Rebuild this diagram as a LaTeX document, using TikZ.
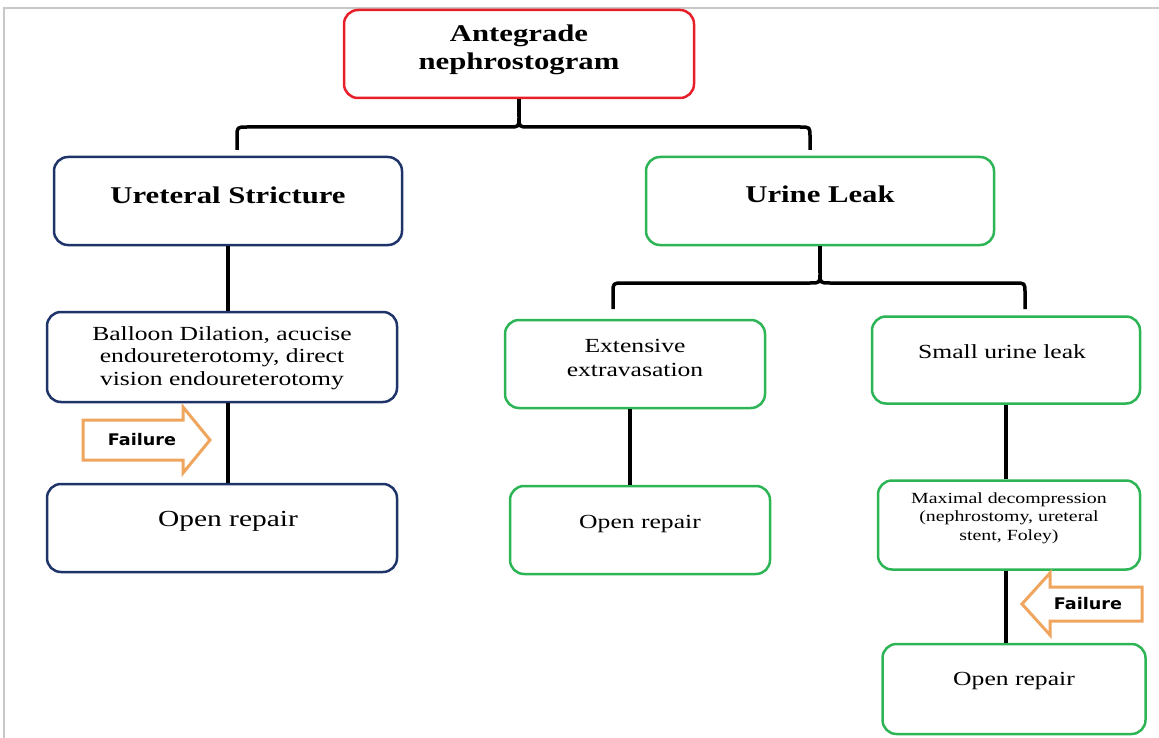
\documentclass[tikz,border=0pt]{standalone}
\usepackage{fontspec}
\setmainfont{Liberation Serif}[FakeStretch=1.28]
\newfontfamily\failfont{DejaVu Sans}[FakeStretch=1.1]
\definecolor{navy}{RGB}{30,52,105}
\definecolor{boxgreen}{RGB}{45,180,85}
\definecolor{boxred}{RGB}{232,30,40}
\definecolor{failorange}{RGB}{240,165,95}
\definecolor{framegray}{RGB}{200,200,200}
\tikzset{
  box/.style={draw, rounded corners=14pt, line width=2.5pt, fill=white, inner sep=0pt},
  navybox/.style={box, draw=navy},
  greenbox/.style={box, draw=boxgreen},
  redbox/.style={box, draw=boxred},
  head/.style={align=center, font=\fontsize{24}{28}\selectfont\bfseries, inner sep=0pt},
  body/.style={align=center, font=\fontsize{20}{23.5}\selectfont, inner sep=0pt},
  small/.style={align=center, font=\fontsize{15.5}{18.5}\selectfont, inner sep=0pt},
  conn/.style={line width=3.5pt, black, line join=round},
  farrow/.style={draw=failorange, line width=3pt, fill=white, line join=miter},
  failtext/.style={font=\failfont\fontsize{16}{19}\selectfont\bfseries, inner sep=0pt}
}
\begin{document}
\begin{tikzpicture}[x=1pt,y=-1pt]
\useasboundingbox (0,0) rectangle (1159,738);
% light frame
\draw[framegray, line width=1.5pt] (4,738) -- (4,8) -- (1159,8);

% boxes
\node[redbox, minimum width=350pt, minimum height=88pt] (top) at (519,54) {};
\node[head] (topt) at (519,50) {Antegrade\\nephrostogram};

\node[navybox, minimum width=348pt, minimum height=88pt] (us) at (228,201) {};
\node[head] (ust) at (228,195) {Ureteral Stricture};

\node[greenbox, minimum width=348pt, minimum height=88pt] (ul) at (820,201) {};
\node[head] (ult) at (820,194) {Urine Leak};

\node[navybox, minimum width=350pt, minimum height=90pt] (bal) at (222,357) {};
\node[body, font=\fontsize{20}{22.5}\selectfont] (balt) at (222,358) {Balloon Dilation, acucise\\endoureterotomy, direct\\vision endoureterotomy};

\node[navybox, minimum width=350pt, minimum height=88pt] (orL) at (222,528) {};
\node[body, font=\fontsize{23}{26}\selectfont] (orLt) at (228,521) {Open repair};

\node[greenbox, minimum width=260pt, minimum height=88pt] (ext) at (635,364) {};
\node[body] (extt) at (635,358) {Extensive\\extravasation};

\node[greenbox, minimum width=268pt, minimum height=87pt] (sml) at (1006,360) {};
\node[body] (smlt) at (1002,352) {Small urine leak};

\node[greenbox, minimum width=260pt, minimum height=88pt] (orM) at (640,530) {};
\node[body] (orMt) at (640,524) {Open repair};

\node[greenbox, minimum width=262pt, minimum height=89pt] (max) at (1009,525) {};
\node[small] (maxt) at (1009,518) {Maximal decompression\\(nephrostomy, ureteral\\stent, Foley)};

\node[greenbox, minimum width=263pt, minimum height=90pt] (orR) at (1014,689) {};
\node[body] (orRt) at (1014,681) {Open repair};

% top brace
\coordinate (b1l) at (237,150);
\coordinate (b1r) at (810,150);
\coordinate (b1c) at (519,117);
\draw[conn] (b1c) -- (top.south);
\draw[conn] (b1l) -- (237,137) .. controls (237,127) .. (247,127) -- (509,127)
  .. controls (519,127) .. (b1c) .. controls (519,127) .. (529,127) -- (800,127)
  .. controls (810,127) .. (810,137) -- (b1r);

% second brace
\coordinate (b2l) at (613,309);
\coordinate (b2r) at (1025,309);
\coordinate (b2c) at (820,273);
\draw[conn] (b2c) -- (ul.south);
\draw[conn] (b2l) -- (613,293) .. controls (613,283) .. (623,283) -- (810,283)
  .. controls (820,283) .. (b2c) .. controls (820,283) .. (830,283) -- (1015,283)
  .. controls (1025,283) .. (1025,293) -- (b2r);

% vertical connectors
\draw[conn] (us.south) -- (us.south |- bal.north);
\draw[conn] (bal.south -| us.south) -- (us.south |- orL.north);
\draw[conn] ([xshift=-5pt]ext.south) -- ([xshift=-5pt]ext.south |- orM.north);
\draw[conn] (sml.south) -- (sml.south |- max.north);
\draw[conn] (max.south -| sml.south) -- (sml.south |- orR.north);

% failure arrows
\draw[farrow] (83,420) -- (183,420) -- (183,407) -- (210,440) -- (183,473) -- (183,460) -- (83,460) -- cycle;
\node[failtext] (failL) at (142,440) {Failure};

\draw[farrow] (1142,587) -- (1050,587) -- (1050,573) -- (1022,604) -- (1050,635) -- (1050,621) -- (1142,621) -- cycle;
\node[failtext] (failR) at (1088,604) {Failure};
\end{tikzpicture}
\end{document}
